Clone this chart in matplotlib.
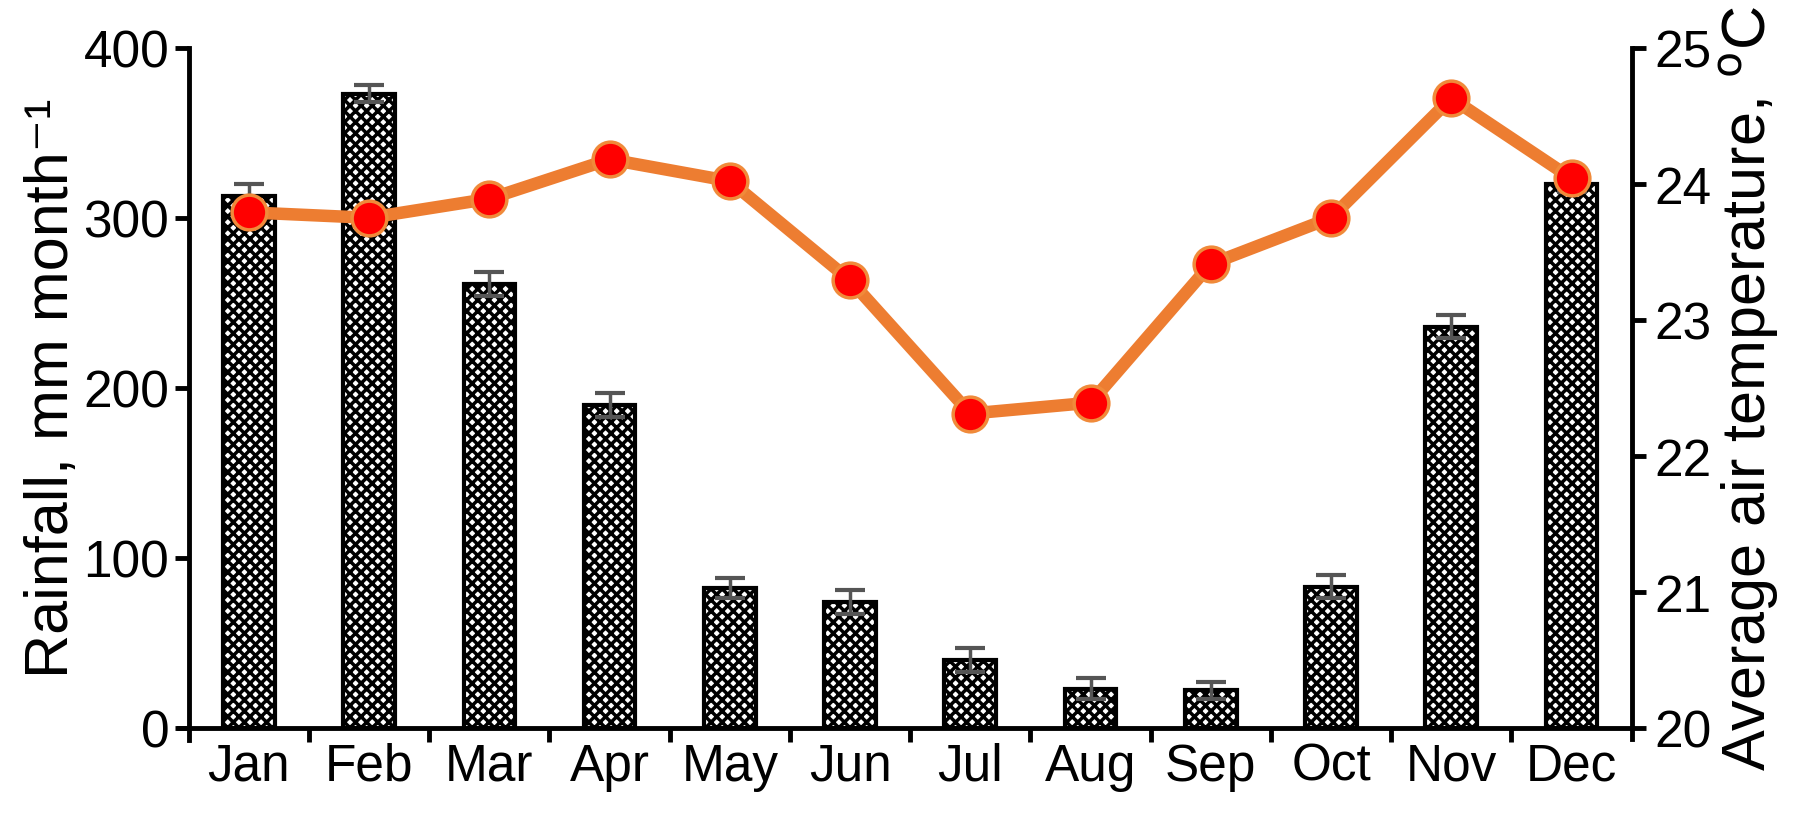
import numpy as np
import matplotlib
matplotlib.use("Agg")
import matplotlib.pyplot as plt

# =========================
# Data
# =========================

months = ["Jan", "Feb", "Mar", "Apr", "May", "Jun",
          "Jul", "Aug", "Sep", "Oct", "Nov", "Dec"]
rainfall = [313, 373, 261, 190, 82, 74, 40, 23, 22, 83, 236, 320]
rain_err = [7, 5, 7, 7, 6, 7, 7, 6, 5, 7, 7, 5]
temperature = [23.79, 23.75, 23.89, 24.18, 24.02, 23.29,
               22.31, 22.39, 23.41, 23.75, 24.63, 24.04]

rain_ticks = [0, 100, 200, 300, 400]
temp_ticks = [20, 21, 22, 23, 24, 25]

# =========================
# Style
# =========================

plt.rcParams["font.family"] = ["Liberation Sans", "DejaVu Sans"]
plt.rcParams["hatch.linewidth"] = 2.5
spine_w = 3.5
tick_fs = 37
label_fs = 44

fig = plt.figure(figsize=(18.15, 8.28), dpi=100)
ax = fig.add_axes([0.104, 0.12, 0.795, 0.821])
ax2 = ax.twinx()

x = np.arange(len(months))

# =========================
# Bars (rainfall)
# =========================

ax.bar(x, rainfall, width=0.43, color="white", edgecolor="black",
       linewidth=3, hatch="xxx", zorder=2)
ax.errorbar(x, rainfall, yerr=rain_err, fmt="none", ecolor="#555555",
            elinewidth=2.5, capsize=11, capthick=3, zorder=3)

ax.set_xlim(-0.5, 11.5)
ax.set_ylim(0, 400)
ax.set_yticks(rain_ticks)
ax.set_xticks(x)
ax.set_xticklabels(months)
ax.set_xticks(np.arange(0.5, 11, 1), minor=True)
ax.tick_params(axis="x", which="major", length=0, labelsize=tick_fs, pad=10)
ax.tick_params(axis="x", which="minor", length=10, width=spine_w, direction="out")
ax.tick_params(axis="y", length=10, width=spine_w, labelsize=tick_fs, pad=4)
ax.set_ylabel("Rainfall, mm month⁻¹", fontsize=label_fs, labelpad=2)

# =========================
# Line (temperature)
# =========================

ax2.plot(x, temperature, color="#ED7D31", linewidth=9, marker="o",
         markersize=25, markerfacecolor="#FF0000", markeredgecolor="#F08A3A",
         markeredgewidth=2.5, zorder=5)
ax2.set_ylim(20, 25)
ax2.set_yticks(temp_ticks)
ax2.tick_params(axis="y", length=10, width=spine_w, labelsize=tick_fs, pad=6)
ax2.set_ylabel("Average air temperature, $^{\\rm o}$C", fontsize=label_fs,
               labelpad=4)

# =========================
# Spines
# =========================

for a in (ax, ax2):
    a.spines["top"].set_visible(False)
    for side in ("left", "right", "bottom"):
        a.spines[side].set_linewidth(spine_w)
ax.spines["right"].set_visible(False)
ax2.spines["left"].set_visible(False)
ax2.spines["bottom"].set_visible(False)
ax.spines["left"].set_bounds(-7, 400)
ax.spines["bottom"].set_bounds(-0.58, 11.5)
ax2.spines["right"].set_bounds(19.92, 25)

fig.savefig("out.png", dpi=100)
